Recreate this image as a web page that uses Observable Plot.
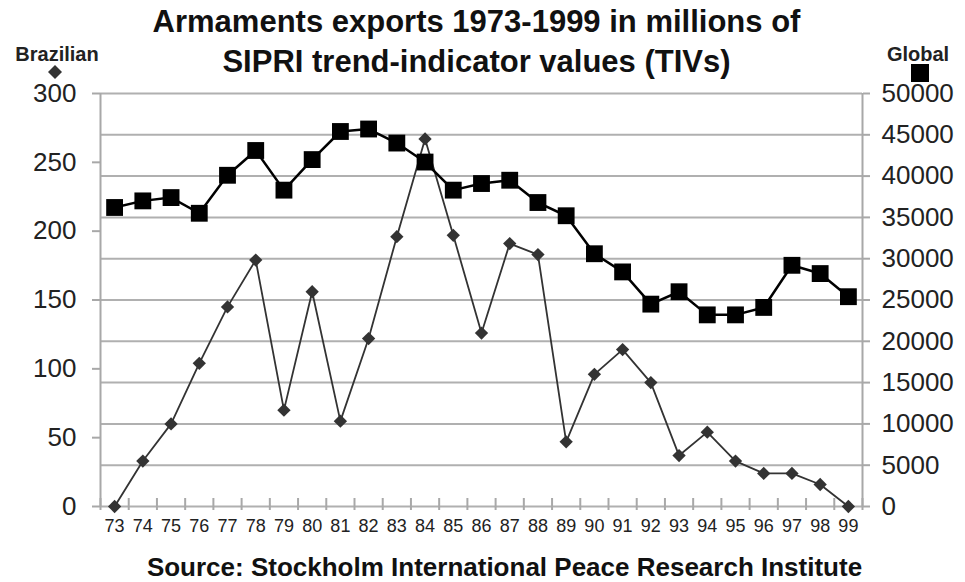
<!DOCTYPE html>
<html>
<head>
<meta charset="utf-8">
<script src="https://cdn.jsdelivr.net/npm/d3@7"></script>
<script src="https://cdn.jsdelivr.net/npm/@observablehq/plot@0.6"></script>
<style>
  html, body { margin: 0; padding: 0; background: #fff; }
  body { width: 965px; height: 582px; position: relative; overflow: hidden; font-family: "Liberation Sans", Arial, sans-serif; }
  .abs { position: absolute; white-space: nowrap; color: #111; }
  #chart { position: absolute; left: 0; top: 0; }
</style>
</head>
<body>
<div class="abs" id="title" style="left:-6px; width:965px; top:2px; text-align:center; font-weight:bold; font-size:31px; line-height:40px;">Armaments exports 1973-1999 in millions of<br>SIPRI trend-indicator values (TIVs)</div>
<div class="abs" style="left:7px; width:100px; top:43px; text-align:center; font-weight:bold; font-size:20px; line-height:22px; color:#222;">Brazilian</div>
<svg class="abs" style="left:47px; top:64px;" width="16" height="16"><path d="M8,1L15,8L8,15L1,8Z" fill="#333"/></svg>
<div class="abs" style="left:868px; width:100px; top:43px; text-align:center; font-weight:bold; font-size:20px; line-height:22px; color:#222;">Global</div>
<svg class="abs" style="left:911px; top:64px;" width="18" height="18"><rect x="0" y="0" width="18" height="18" fill="#000"/></svg>
<div id="chart"></div>
<div class="abs" style="left:22px; width:965px; top:552px; text-align:center; font-weight:bold; font-size:26px; line-height:30px; color:#111;">Source: Stockholm International Peace Research Institute</div>
<script>
const years = [73,74,75,76,77,78,79,80,81,82,83,84,85,86,87,88,89,90,91,92,93,94,95,96,97,98,99];
const brazilian = [0,33,60,104,145,179,70,156,62,122,196,267,197,126,191,183,47,96,114,90,37,54,33,24,24,16,0];
const globalTIV = [36200,37000,37400,35500,40100,43100,38300,42000,45400,45700,44000,41700,38300,39100,39500,36800,35200,30600,28400,24500,26000,23200,23200,24100,29200,28200,25400];
const leftTicks = [0,50,100,150,200,250,300];
const rightTicks = [0,5000,10000,15000,20000,25000,30000,35000,40000,45000,50000];

const leftMax = 300, rightMax = 50000;
const ratio = rightMax / leftMax;
const data = years.map((y, i) => ({year: y, brazil: brazilian[i], global: globalTIV[i] / ratio}));
const xDomain = [years[0] - 0.5, years[years.length - 1] + 0.5];
const boundaries = d3.range(xDomain[0], xDomain[1] + 0.01, 1);
const gridTicks = rightTicks.map(v => v / ratio);

const chart = Plot.plot({
  width: 965,
  height: 545,
  marginTop: 93,
  marginBottom: 39,
  marginLeft: 100,
  marginRight: 103,
  style: {fontFamily: "'Liberation Sans', Arial, sans-serif", color: "#222", background: "transparent"},
  x: {type: "linear", domain: xDomain, label: null},
  y: {domain: [0, leftMax], label: null},
  marks: [
    Plot.ruleY(gridTicks, {stroke: "#b0b0b0", strokeWidth: 2}),
    Plot.ruleX(xDomain, {stroke: "#a8a8a8", strokeWidth: 2}),
    Plot.axisY({ticks: leftTicks, anchor: "left", label: null, tickSize: 8, tickPadding: 16, fontSize: 26, stroke: "#a8a8a8", strokeWidth: 2, fill: "#222", tickFormat: d => String(d)}),
    Plot.axisY({ticks: gridTicks, anchor: "right", label: null, tickSize: 7, tickPadding: 12, fontSize: 26, stroke: "#a8a8a8", strokeWidth: 2, fill: "#222", tickFormat: d => String(Math.round(d * ratio))}),
    Plot.axisX({ticks: boundaries, anchor: "bottom", label: null, tickSize: 12, dy: -8, tickFormat: () => "", stroke: "#a8a8a8", strokeWidth: 2}),
    Plot.axisX({ticks: years, anchor: "bottom", label: null, tickSize: 0, tickPadding: 13, fontSize: 18, fill: "#222", tickFormat: d => String(d)}),
    Plot.line(data, {x: "year", y: "brazil", stroke: "#333", strokeWidth: 1.8}),
    Plot.dot(data, {x: "year", y: "brazil", symbol: "diamond2", r: 6, fill: "#333", stroke: "none"}),
    Plot.line(data, {x: "year", y: "global", stroke: "#000", strokeWidth: 2.5}),
    Plot.dot(data, {x: "year", y: "global", symbol: "square", r: 9.5, fill: "#000", stroke: "none"})
  ]
});
document.getElementById("chart").appendChild(chart);
</script>
</body>
</html>
